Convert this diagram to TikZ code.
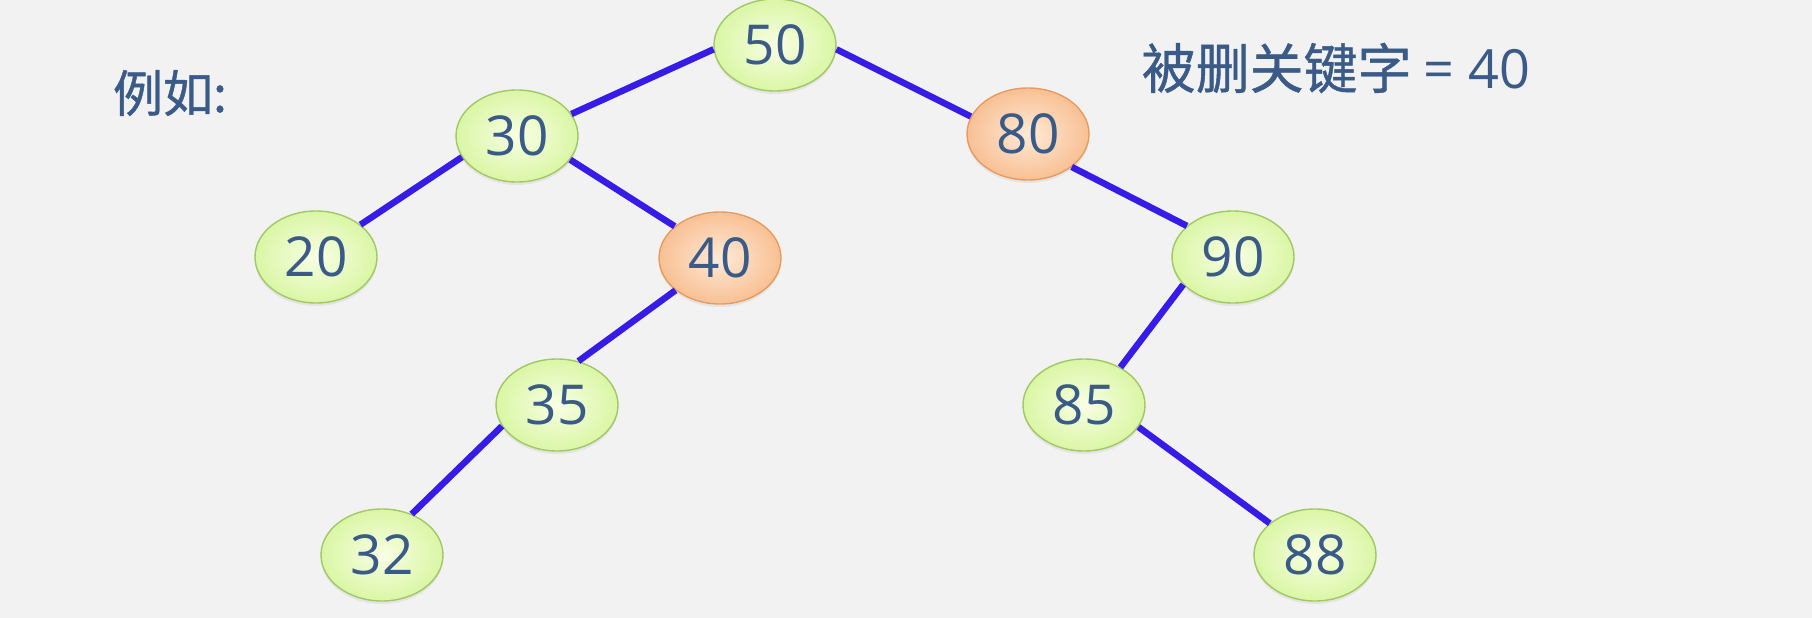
\documentclass[tikz,border=0pt]{standalone}
\usepackage{fontspec}
\setmainfont{Noto Sans CJK SC}[FakeBold=0.8]
\newfontfamily\digitfont{Open Sans}
\usetikzlibrary{shapes.geometric,shadows}
\definecolor{bg}{RGB}{242,242,242}
\definecolor{txt}{RGB}{58,90,135}
\definecolor{edgeblue}{RGB}{55,28,232}
\definecolor{gin}{RGB}{248,255,228}
\definecolor{gout}{RGB}{218,246,165}
\definecolor{gline}{RGB}{160,200,100}
\definecolor{oin}{RGB}{255,234,215}
\definecolor{oout}{RGB}{248,192,148}
\definecolor{oline}{RGB}{232,155,95}
\tikzset{
  treenode/.style={ellipse, minimum width=122pt, minimum height=92pt, inner sep=0pt,
    line width=1.4pt, text=txt, font=\digitfont\fontsize{55}{60}\selectfont,
    drop shadow={opacity=0.12, shadow xshift=0pt, shadow yshift=-3pt}},
  greennode/.style={treenode, draw=gline, inner color=gin, outer color=gout},
  orangenode/.style={treenode, draw=oline, inner color=oin, outer color=oout},
  link/.style={draw=edgeblue, line width=6.5pt},
  label/.style={text=txt, inner sep=0pt, anchor=center}
}
\begin{document}
\begin{tikzpicture}[x=1pt,y=-1pt]
\fill[bg] (0,0) rectangle (1812,618);
\useasboundingbox (0,0) rectangle (1812,618);
\node[greennode]  (n50) at (775,45)  {50};
\node[greennode]  (n30) at (517,136) {30};
\node[orangenode] (n80) at (1028,134) {80};
\node[greennode]  (n20) at (316,257) {20};
\node[orangenode] (n40) at (720,258) {40};
\node[greennode]  (n90) at (1233,257) {90};
\node[greennode]  (n35) at (557,405) {35};
\node[greennode]  (n85) at (1084,405) {85};
\node[greennode]  (n32) at (382,555) {32};
\node[greennode]  (n88) at (1315,555) {88};
\draw[link] (n50.184) -- (n30.22);
\draw[link] (n50.356) -- (n80.163);
\draw[link] (n30.201) -- (n20.36);
\draw[link] (n30.336) -- (n40.145);
\draw[link] (n40.216) -- (n35.64);
\draw[link] (n35.201) -- (n32.54);
\draw[link] (n80.323) -- (n90.146);
\draw[link] (n90.209) -- (n85.46);
\draw[link] (n85.338) -- (n88.145);
\node[label, font=\fontsize{50}{56}\selectfont] (lbl1) at (170,93) {例如:};
\node[label, font=\fontsize{54}{60}\selectfont] (lbl2) at (1336,68) {被删关键字 {\digitfont= 40}};
\end{tikzpicture}
\end{document}
